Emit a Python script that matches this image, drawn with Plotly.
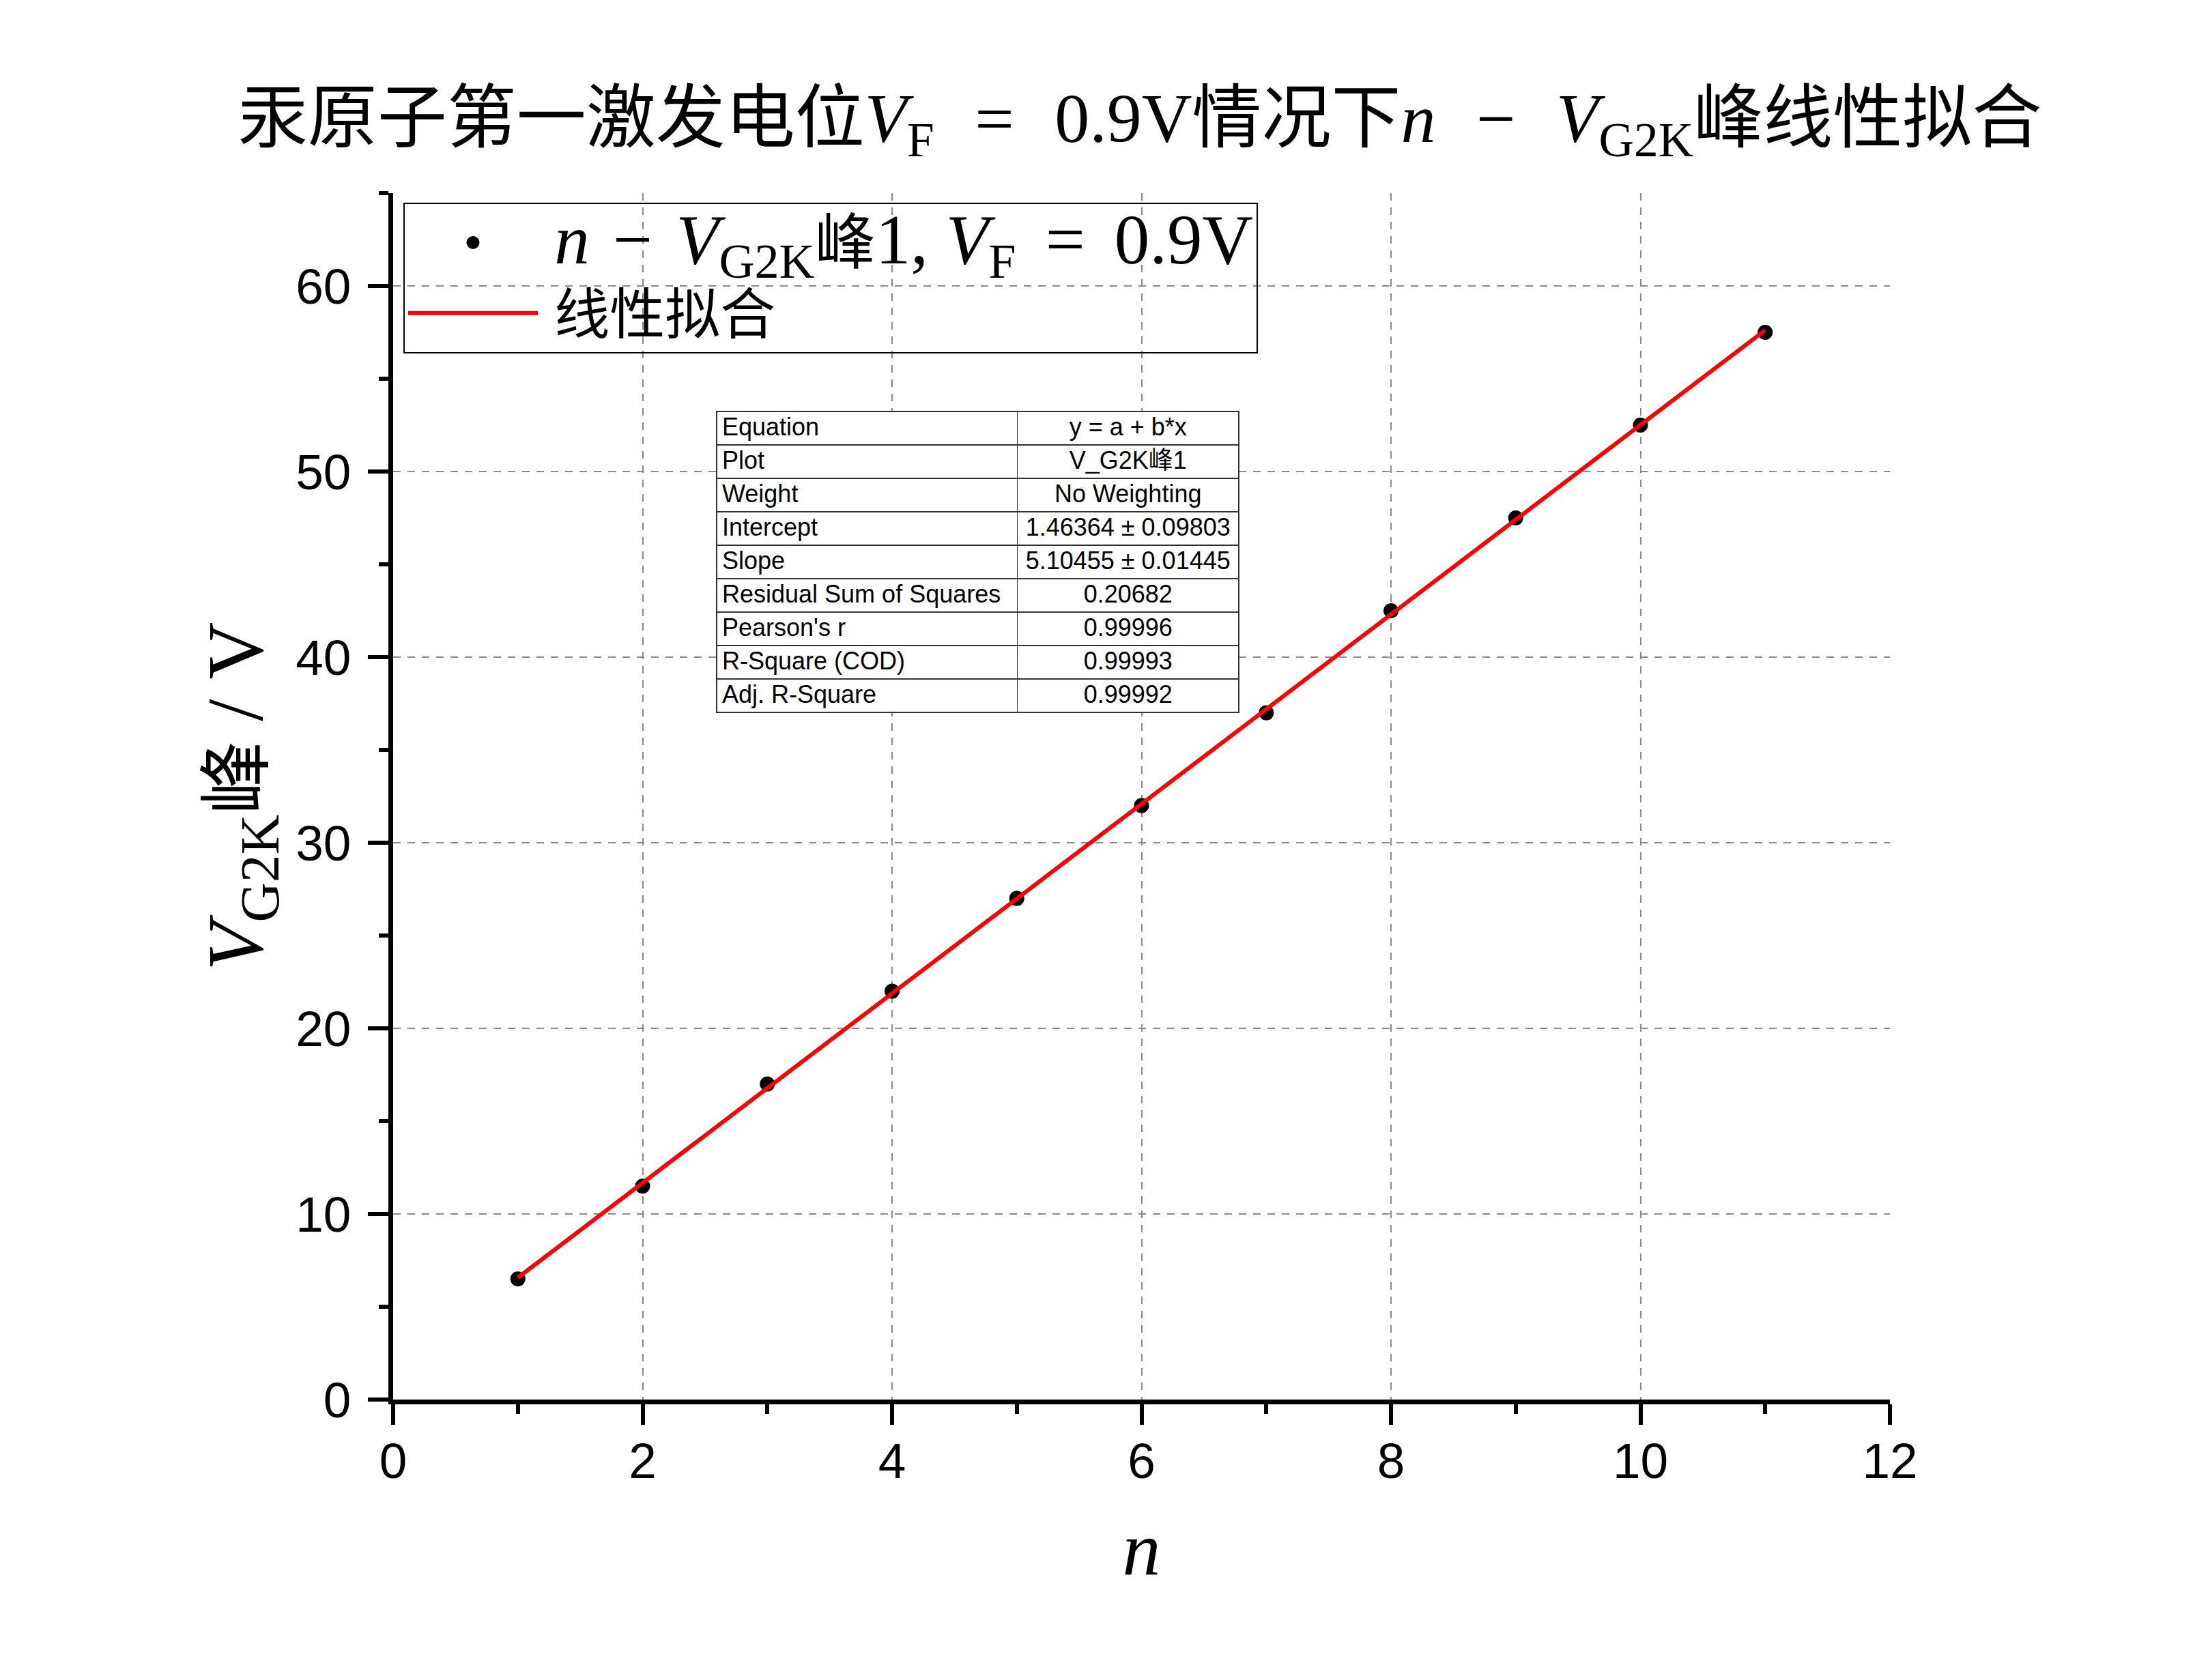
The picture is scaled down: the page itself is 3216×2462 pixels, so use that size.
import plotly.graph_objects as go

# ---- data ----
n_vals = [1, 2, 3, 4, 5, 6, 7, 8, 9, 10, 11]
v_peak = [6.5, 11.5, 17.0, 22.0, 27.0, 32.0, 37.0, 42.5, 47.5, 52.5, 57.5]

fit_intercept = 1.46364
fit_slope = 5.10455
fit_x = [1, 11]

table_labels = ["Equation", "Plot", "Weight", "Intercept", "Slope",
                "Residual Sum of Squares", "Pearson's r", "R-Square (COD)", "Adj. R-Square"]
table_values = ["y = a + b*x", "V_G2K峰1", "No Weighting", "1.46364 ± 0.09803",
                "5.10455 ± 0.01445", "0.20682", "0.99996", "0.99993", "0.99992"]

x_ticks = [0, 2, 4, 6, 8, 10, 12]
y_ticks = [0, 10, 20, 30, 40, 50, 60]

W, H = 3216, 2462
L, R, T, B = 576, 2769, 283, 2051
PW, PH = R - L, B - T

SERIF = "Liberation Serif, Noto Sans CJK SC, serif"
SANS = "Liberation Sans, Arial, Noto Sans CJK SC, sans-serif"

SP = "\u2002\u200a"  # wide math-like spacing


def m(s, size):
    return f'<span style="font-size:{size}px">{s}</span>'


def nb(s):
    return s.replace(" ", "\u00a0")


fig = go.Figure()

legend1 = ("\u2005" + m("<i>n</i>\u2004−\u2004<i>V</i><sub>G2K</sub>", 103) + m("峰", 89)
           + m("1, <i>V</i><sub>F</sub>\u2004\u200a=\u200a\u20040.9V", 103))
fig.add_trace(go.Scatter(
    x=n_vals, y=v_peak, mode="markers",
    marker=dict(color="black", size=19, symbol="circle",
                line=dict(color="black", width=3)),
    name=legend1,
))

fit_y = [fit_intercept + fit_slope * xv for xv in fit_x]
fig.add_trace(go.Scatter(
    x=fit_x, y=fit_y, mode="lines",
    line=dict(color="#ff0000", width=6),
    name="\u2005" + m("线性拟合", 81),
))

# fit statistics table (domain is relative to the plotting area)
fig.add_trace(go.Table(
    domain=dict(x=[(1050 - L) / PW, (1816 - L) / PW],
                y=[(B - 1100) / PH, (B - 603) / PH]),
    columnwidth=[441, 325],
    header=dict(values=[nb(table_labels[0]), nb(table_values[0])],
                align=["left", "center"], height=49,
                fill_color="white", line=dict(color="#333333", width=1.5),
                font=dict(family=SANS, size=36, color="black")),
    cells=dict(values=[[nb(s) for s in table_labels[1:]], [nb(s) for s in table_values[1:]]],
               align=["left", "center"], height=49,
               fill_color="white", line=dict(color="#333333", width=1.5),
               font=dict(family=SANS, size=36, color="black")),
))

axis_common = dict(
    showline=True, linecolor="black", linewidth=7,
    ticks="outside", ticklen=30, tickwidth=6, tickcolor="black",
    showgrid=True, gridcolor="#8a8a8a", gridwidth=2, griddash="11px,10px",
    zeroline=False, mirror=False,
    tickfont=dict(family=SANS, size=73, color="black"),
)

fig.update_xaxes(
    range=[0, 12], tickmode="array", tickvals=x_ticks, ticktext=[str(v) for v in x_ticks],
    minor=dict(tickmode="linear", tick0=0, dtick=1, ticks="outside", ticklen=14,
               tickwidth=6, tickcolor="black", showgrid=False),
    ticklabelstandoff=-10,
    title=dict(text="<i>n</i>", font=dict(family=SERIF, size=112, color="black"), standoff=52),
    **axis_common,
)
fig.update_yaxes(
    range=[0, 65], tickmode="array", tickvals=y_ticks, ticktext=[str(v) for v in y_ticks],
    minor=dict(tickmode="linear", tick0=0, dtick=5, ticks="outside", ticklen=14,
               tickwidth=6, tickcolor="black", showgrid=False),
    ticklabelstandoff=10,
    title=dict(text="<i>V</i><sub>G2K</sub>" + m("峰", 108) + " / V",
               font=dict(family=SERIF, size=116, color="black"), standoff=12),
    **axis_common,
)

title_text = ("汞原子第一激发电位<i>V</i><sub>F</sub>" + SP + "=" + SP + "0.9V情况下"
              "<i>n</i>" + SP + "−" + SP + "<i>V</i><sub>G2K</sub>峰线性拟合")

fig.update_layout(
    width=W, height=H,
    margin=dict(l=L, r=W - R, t=T, b=H - B, autoexpand=False),
    paper_bgcolor="white", plot_bgcolor="white",
    title=dict(
        text=title_text,
        font=dict(family=SERIF, size=102, color="black"),
        x=1670 / W, xanchor="center", y=1 - 172 / H, yanchor="middle",
    ),
    legend=dict(
        x=(591 - L) / PW, y=(B - 297) / PH, xanchor="left", yanchor="top",
        bgcolor="rgba(0,0,0,0)", bordercolor="black", borderwidth=2,
        font=dict(family=SERIF, size=77, color="black"),
        itemwidth=190, tracegroupgap=0,
    ),
    showlegend=True,
)

fig.write_html("out.html")
